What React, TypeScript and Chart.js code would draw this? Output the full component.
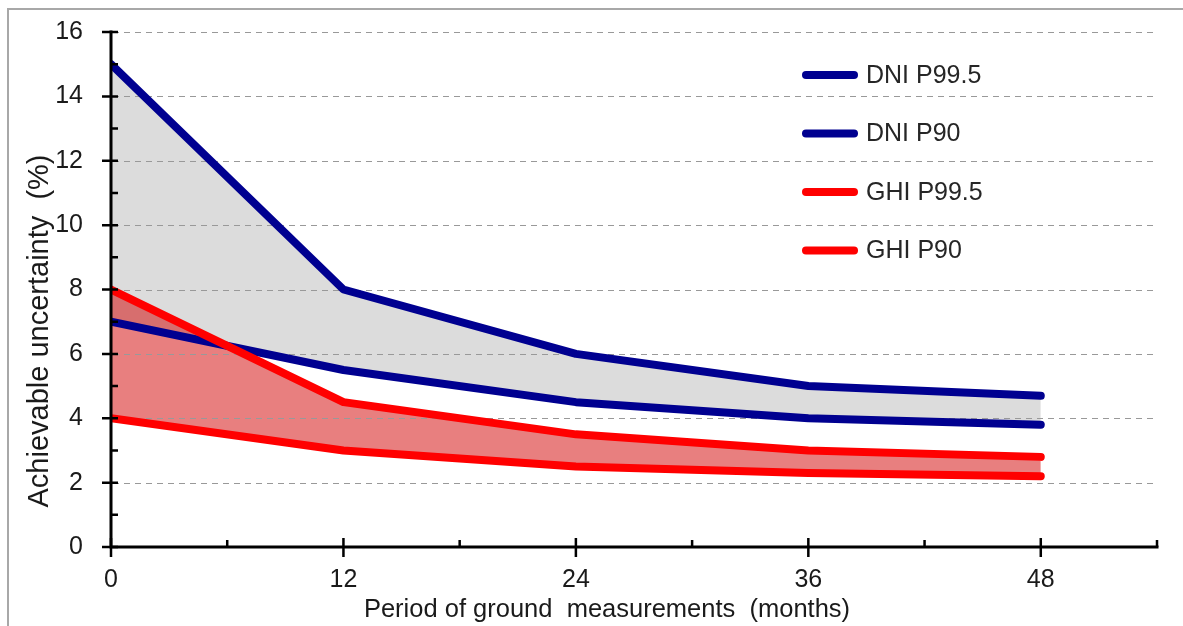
import React, { useEffect, useRef } from "react";
import { Chart, registerables } from "chart.js";

Chart.register(...registerables);

// ---- data ----
const months = [0, 12, 24, 36, 48];
const dniP995 = [15, 8, 6, 5, 4.7];
const dniP90 = [7, 5.5, 4.5, 4.0, 3.8];
const ghiP995 = [8, 4.5, 3.5, 3.0, 2.8];
const ghiP90 = [4, 3, 2.5, 2.3, 2.2];

const xMajorTicks = [0, 12, 24, 36, 48];
const xMinorTicks = [6, 18, 30, 42, 54];
const yMajorTicks = [0, 2, 4, 6, 8, 10, 12, 14, 16];
const yMinorTicks = [1, 3, 5, 7, 9, 11, 13, 15];
const gridValues = [2, 4, 6, 8, 10, 12, 14, 16];

const legendLabels = ["DNI P99.5", "DNI P90", "GHI P99.5", "GHI P90"];
const xTitle = "Period of ground  measurements  (months)";
const yTitle = "Achievable uncertainty  (%)";

const NAVY = "#000090";
const RED = "#ff0000";
const legendColors = [NAVY, NAVY, RED, RED];
const FONT = "'Liberation Sans', Arial, sans-serif";

const pts = (ys: number[]) => months.map((m, i) => ({ x: m, y: ys[i] }));

const decorPlugin = {
  id: "decor",
  beforeDatasetsDraw(chart: any) {
    const { ctx, scales } = chart;
    const xs = scales.x, ys = scales.y;
    ctx.save();
    ctx.strokeStyle = "#999999";
    ctx.lineWidth = 1;
    ctx.setLineDash([6, 5]);
    const x0 = xs.getPixelForValue(0) + 2;
    const x1 = xs.getPixelForValue(54);
    for (const v of gridValues) {
      const y = Math.round(ys.getPixelForValue(v)) + 0.5;
      ctx.beginPath();
      ctx.moveTo(x0, y);
      ctx.lineTo(x1, y);
      ctx.stroke();
    }
    ctx.restore();
  },
  afterDatasetsDraw(chart: any) {
    const { ctx, scales } = chart;
    const xs = scales.x, ys = scales.y;
    const ax = xs.getPixelForValue(0);
    const ay = ys.getPixelForValue(0);
    ctx.save();
    ctx.strokeStyle = "#000000";
    ctx.lineWidth = 3;
    ctx.lineCap = "butt";
    ctx.beginPath();
    ctx.moveTo(ax, ys.getPixelForValue(16) - 1.5);
    ctx.lineTo(ax, ay + 1.5);
    ctx.moveTo(ax - 1.5, ay);
    ctx.lineTo(xs.getPixelForValue(54) + 1.5, ay);
    ctx.stroke();
    ctx.lineWidth = 2.5;
    ctx.beginPath();
    for (const v of yMajorTicks) {
      const y = ys.getPixelForValue(v);
      ctx.moveTo(ax - 9, y);
      ctx.lineTo(ax + 7, y);
    }
    for (const v of yMinorTicks) {
      const y = ys.getPixelForValue(v);
      ctx.moveTo(ax, y);
      ctx.lineTo(ax + 7, y);
    }
    for (const v of xMajorTicks) {
      const x = xs.getPixelForValue(v);
      ctx.moveTo(x, ay - 9);
      ctx.lineTo(x, ay + 10);
    }
    for (const v of xMinorTicks) {
      const x = xs.getPixelForValue(v);
      ctx.moveTo(x, ay - 7);
      ctx.lineTo(x, ay);
    }
    ctx.stroke();
    ctx.restore();
  },
  afterDraw(chart: any) {
    const { ctx } = chart;
    ctx.save();
    ctx.fillStyle = "#a8a8a8";
    ctx.fillRect(7, 8, 2, 626);
    ctx.fillRect(7, 8, 1183, 2);
    legendLabels.forEach((label, i) => {
      const y = 75 + i * 58.5;
      ctx.strokeStyle = legendColors[i];
      ctx.lineWidth = 8;
      ctx.lineCap = "round";
      ctx.beginPath();
      ctx.moveTo(806, y);
      ctx.lineTo(854, y);
      ctx.stroke();
      ctx.fillStyle = "#262626";
      ctx.font = `25px ${FONT}`;
      ctx.textAlign = "left";
      ctx.textBaseline = "middle";
      ctx.fillText(label, 866, y + 1);
    });
    ctx.fillStyle = "#1a1a1a";
    ctx.font = `25.5px ${FONT}`;
    ctx.textAlign = "center";
    ctx.textBaseline = "alphabetic";
    ctx.fillText(xTitle, 607, 617);
    ctx.translate(48, 331);
    ctx.rotate(-Math.PI / 2);
    ctx.font = `29px ${FONT}`;
    ctx.fillText(yTitle, 0, 0);
    ctx.restore();
  },
};

export default function App() {
  const ref = useRef<HTMLCanvasElement>(null);
  useEffect(() => {
    const canvas = ref.current!;
    const chart = new Chart(canvas, {
      type: "line",
      data: {
        datasets: [
          {
            label: legendLabels[0],
            data: pts(dniP995),
            borderColor: NAVY,
            backgroundColor: "#dcdcdc",
            fill: "+1",
            order: 1,
          },
          {
            label: legendLabels[1],
            data: pts(dniP90),
            borderColor: NAVY,
            fill: false,
            order: 1,
          },
          {
            label: legendLabels[2],
            data: pts(ghiP995),
            borderColor: RED,
            backgroundColor: "rgba(209,0,0,0.5)",
            fill: "+1",
            order: 0,
          },
          {
            label: legendLabels[3],
            data: pts(ghiP90),
            borderColor: RED,
            fill: false,
            order: 0,
          },
        ].map((d) => ({
          ...d,
          borderWidth: 8,
          borderCapStyle: "round",
          borderJoinStyle: "round",
          pointRadius: 0,
          pointHoverRadius: 0,
          tension: 0,
          clip: { left: 0, right: 10, top: 10, bottom: 10 },
        })) as any,
      },
      options: {
        responsive: false,
        animation: false,
        devicePixelRatio: 1,
        events: [],
        layout: { padding: { left: 0, right: 26, top: 32, bottom: 0 } },
        plugins: {
          legend: { display: false },
          tooltip: { enabled: false },
          filler: { drawTime: "beforeDatasetsDraw" } as any,
        },
        scales: {
          x: {
            type: "linear",
            min: 0,
            max: 54,
            afterBuildTicks: (s: any) => {
              s.ticks = xMajorTicks.map((v) => ({ value: v }));
            },
            afterFit: (s: any) => {
              s.height = 79;
              s.paddingLeft = 0;
              s.paddingRight = 0;
            },
            grid: { display: false, drawTicks: false },
            border: { display: false },
            ticks: {
              padding: 18,
              color: "#1a1a1a",
              font: { family: FONT, size: 25 },
              maxRotation: 0,
              autoSkip: false,
            },
          },
          y: {
            type: "linear",
            min: 0,
            max: 16,
            afterBuildTicks: (s: any) => {
              s.ticks = yMajorTicks.map((v) => ({ value: v }));
            },
            afterFit: (s: any) => {
              s.width = 111;
              s.paddingTop = 0;
              s.paddingBottom = 0;
            },
            grid: { display: false, drawTicks: false },
            border: { display: false },
            ticks: {
              padding: 28,
              color: "#1a1a1a",
              font: { family: FONT, size: 25 },
              autoSkip: false,
            },
          },
        },
      },
      plugins: [decorPlugin],
    });
    return () => chart.destroy();
  }, []);
  return (
    <div style={{ position: "fixed", left: 0, top: 0, width: 1183, height: 626, background: "#fff" }}>
      <canvas ref={ref} width={1183} height={626} style={{ display: "block", width: 1183, height: 626 }} />
    </div>
  );
}
